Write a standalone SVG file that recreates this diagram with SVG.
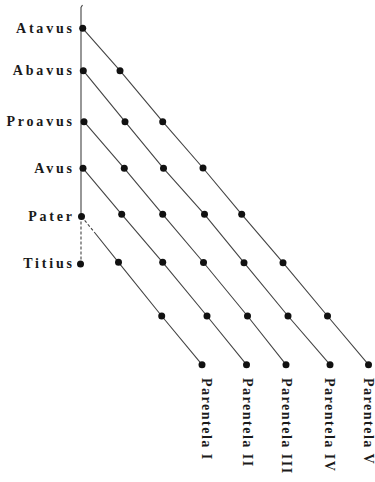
<svg xmlns="http://www.w3.org/2000/svg" width="375" height="482" viewBox="0 0 375 482">
<style>
  .lbl { font-family: "Liberation Serif", "Times New Roman", serif; font-size: 14px; font-weight: bold; fill: #1a1a1a; }
  .left { text-anchor: end; letter-spacing: 2.8px; }
  .rot { letter-spacing: 1.5px; }
  .ln { fill: none; stroke: #444; stroke-width: 1.1; }
  .dash { stroke-dasharray: 3 2; }
  .dot { fill: #111; }
</style>
<rect width="375" height="482" fill="#fff"/>
<g id="connectors">
  <path class="ln" d="M82.5,5 L81,7.5 L81,216.5"/>
  <path class="ln dash" d="M81,216.5 L81,264"/>
  <polyline class="ln" points="82.7,28.3 120,70.7 162.7,121.7 203,168 241.7,214.3 283,262.7 327.5,316 368.5,364.7"/>
  <polyline class="ln" points="83.3,70.7 125,121.7 163.5,168.3 204.5,214.3 244,262.7 288,316 330,364.7"/>
  <polyline class="ln" points="84,121.7 124.3,168.3 162.7,214.3 203.5,262.5 247.5,316 286,364.7"/>
  <polyline class="ln" points="83,168.3 121.7,214.3 162.7,262.3 207,316 246.5,364.7"/>
  <path class="ln dash" d="M81.5,216.5 L95,233"/>
  <polyline class="ln" points="95,233 118.5,262.3 161.7,316 202,364.7"/>
</g>
<g id="atavus"><circle class="dot" cx="82.7" cy="28.3" r="3.5"/><text class="lbl left" x="74.8" y="32.5">Atavus</text></g>
<g id="abavus"><circle class="dot" cx="83.3" cy="70.7" r="3.5"/><text class="lbl left" x="74.8" y="75.3">Abavus</text></g>
<g id="proavus"><circle class="dot" cx="84" cy="121.7" r="3.5"/><text class="lbl left" x="74.8" y="126">Proavus</text></g>
<g id="avus"><circle class="dot" cx="83" cy="168.3" r="3.5"/><text class="lbl left" x="74.8" y="172.5">Avus</text></g>
<g id="pater"><circle class="dot" cx="81.5" cy="216.5" r="3.5"/><text class="lbl left" x="74.8" y="220.5">Pater</text></g>
<g id="titius"><circle class="dot" cx="80.5" cy="264" r="3.5"/><text class="lbl left" x="74.8" y="267.5">Titius</text></g>
<g id="grid-dots">
  <circle class="dot" cx="120" cy="70.7" r="3.5"/>
  <circle class="dot" cx="125" cy="121.7" r="3.5"/>
  <circle class="dot" cx="162.7" cy="121.7" r="3.5"/>
  <circle class="dot" cx="124.3" cy="168.3" r="3.5"/>
  <circle class="dot" cx="163.5" cy="168.3" r="3.5"/>
  <circle class="dot" cx="203" cy="168" r="3.5"/>
  <circle class="dot" cx="121.7" cy="214.3" r="3.5"/>
  <circle class="dot" cx="162.7" cy="214.3" r="3.5"/>
  <circle class="dot" cx="204.5" cy="214.3" r="3.5"/>
  <circle class="dot" cx="241.7" cy="214.3" r="3.5"/>
  <circle class="dot" cx="118.5" cy="262.3" r="3.5"/>
  <circle class="dot" cx="162.7" cy="262.3" r="3.5"/>
  <circle class="dot" cx="203.5" cy="262.5" r="3.5"/>
  <circle class="dot" cx="244" cy="262.7" r="3.5"/>
  <circle class="dot" cx="283" cy="262.7" r="3.5"/>
  <circle class="dot" cx="161.7" cy="316" r="3.5"/>
  <circle class="dot" cx="207" cy="316" r="3.5"/>
  <circle class="dot" cx="247.5" cy="316" r="3.5"/>
  <circle class="dot" cx="288" cy="316" r="3.5"/>
  <circle class="dot" cx="327.5" cy="316" r="3.5"/>
</g>
<g id="parentela-1"><circle class="dot" cx="202" cy="364.7" r="3.5"/><text class="lbl rot" transform="translate(201.5,378) rotate(90)">Parentela I</text></g>
<g id="parentela-2"><circle class="dot" cx="246.5" cy="364.7" r="3.5"/><text class="lbl rot" transform="translate(243,378) rotate(90)">Parentela II</text></g>
<g id="parentela-3"><circle class="dot" cx="286" cy="364.7" r="3.5"/><text class="lbl rot" transform="translate(281.5,378) rotate(90)">Parentela III</text></g>
<g id="parentela-4"><circle class="dot" cx="330" cy="364.7" r="3.5"/><text class="lbl rot" transform="translate(324.5,378) rotate(90)">Parentela IV</text></g>
<g id="parentela-5"><circle class="dot" cx="368.5" cy="364.7" r="3.5"/><text class="lbl rot" transform="translate(363.5,378) rotate(90)">Parentela V</text></g>
</svg>
